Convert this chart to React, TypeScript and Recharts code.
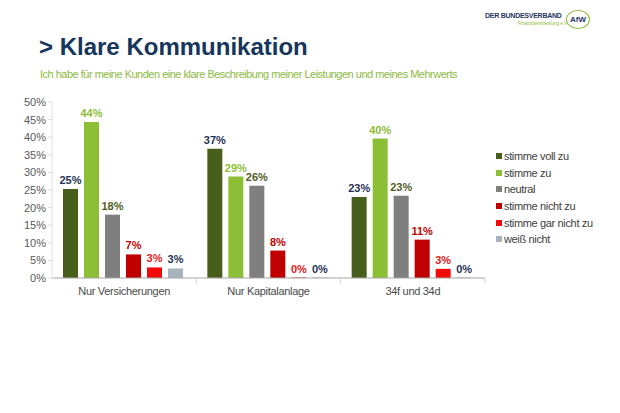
import React from 'react';
import { BarChart, Bar, XAxis, YAxis, LabelList } from 'recharts';

const categories = ['Nur Versicherungen', 'Nur Kapitalanlage', '34f und 34d'];

const seriesNames = ['stimme voll zu', 'stimme zu', 'neutral', 'stimme nicht zu', 'stimme gar nicht zu', 'weiß nicht'];
const vollZu = [25.3, 36.7, 23.0];
const zu = [44.3, 28.8, 39.6];
const neutral = [18.0, 26.2, 23.4];
const nichtZu = [6.7, 7.8, 10.9];
const garNichtZu = [3.0, 0, 2.6];
const weissNicht = [2.7, 0, 0];

const yTicks = [0, 5, 10, 15, 20, 25, 30, 35, 40, 45, 50];

const barColors = ['#485E1B', '#8CBE36', '#7F7F7F', '#C00000', '#F00A0A', '#A9B3BE'];
const labelColors = ['#1F3356', '#8CBE36', '#4E5E26', '#C00000', '#E02020', '#1F3356'];

const seriesValues = [vollZu, zu, neutral, nichtZu, garNichtZu, weissNicht];
const data = categories.map((c, i) => {
    const row: Record<string, string | number> = { name: c };
    seriesNames.forEach((s, k) => { row[s] = seriesValues[k][i]; });
    return row;
});

const FONT = '"Liberation Sans", Arial, sans-serif';
const PLOT_W = 433;

// category label plus a small boundary tick on each side, like the original
function CategoryTick({ x, y, payload, index }: any) {
    const half = PLOT_W / categories.length / 2;
    return (
        <g>
            {index > 0 && <line x1={x - half} x2={x - half} y1={y - 8} y2={y - 3} stroke="#d0d0d0" />}
            {index === categories.length - 1 && <line x1={x + half} x2={x + half} y1={y - 8} y2={y - 3} stroke="#d0d0d0" />}
            <text x={x} y={y + 9} textAnchor="middle" fontSize={11} letterSpacing={-0.3} fill="#4a4a4a" fontFamily={FONT}>{payload.value}</text>
        </g>
    );
}

export default function App() {
    return (
        <div style={{ position: 'relative', width: 620, height: 413, background: '#fff', fontFamily: FONT }}>
            <style>{'body{margin:0}'}</style>

            <div style={{ position: 'absolute', left: 485, top: 12, fontSize: 7, fontWeight: 700, color: '#1F3864', letterSpacing: -0.25 }}>
                DER BUNDESVERBAND
            </div>
            <div style={{ position: 'absolute', left: 518, top: 21, fontSize: 4.5, color: '#8CBE36' }}>
                Finanzdienstleistung e.V.
            </div>
            <div style={{
                position: 'absolute', left: 566, top: 10, width: 22, height: 17, borderRadius: '50%',
                border: '1.5px solid #8CBE36', color: '#1F3864', fontSize: 8, fontWeight: 700,
                display: 'flex', alignItems: 'center', justifyContent: 'center',
            }}>
                AfW
            </div>

            <div style={{ position: 'absolute', left: 39, top: 33, fontSize: 24, fontWeight: 700, color: '#17365D' }}>
                &gt; Klare Kommunikation
            </div>
            <div style={{ position: 'absolute', left: 40, top: 68, fontSize: 11, letterSpacing: -0.5, color: '#8DBB45' }}>
                Ich habe für meine Kunden eine klare Beschreibung meiner Leistungen und meines Mehrwerts
            </div>

            <div style={{ position: 'absolute', left: 0, top: 0 }}>
                <BarChart
                    width={620}
                    height={320}
                    data={data}
                    margin={{ top: 102, right: 135, left: 7, bottom: 12 }}
                    barCategoryGap={11}
                    barGap={6}
                >
                    <XAxis dataKey="name" height={30} axisLine={{ stroke: '#a6a6a6' }} tickLine={false} tick={<CategoryTick />} interval={0} />
                    <YAxis
                        width={45}
                        domain={[0, 50]}
                        ticks={yTicks}
                        interval={0}
                        tickFormatter={v => `${v}%`}
                        axisLine={{ stroke: '#e2e2e2' }}
                        tickLine={{ stroke: '#d9d9d9' }}
                        tickSize={4}
                        tick={{ fontSize: 11, fill: '#595959', fontFamily: FONT }}
                    />
                    {seriesNames.map((s, k) => (
                        <Bar key={s} dataKey={s} fill={barColors[k]} minPointSize={0.5} isAnimationActive={false}>
                            <LabelList
                                dataKey={s}
                                position="top"
                                offset={5}
                                formatter={(v: any) => `${Math.round(Number(v))}%`}
                                style={{ fontSize: 11, fontWeight: 700, fill: labelColors[k], fontFamily: FONT }}
                            />
                        </Bar>
                    ))}
                </BarChart>
            </div>

            <div style={{ position: 'absolute', left: 496, top: 148 }}>
                {seriesNames.map((s, k) => (
                    <div key={s} style={{ display: 'flex', alignItems: 'center', height: 16.6, fontSize: 11, letterSpacing: -0.35, color: '#404040' }}>
                        <span style={{ width: 6, height: 6, background: barColors[k], marginRight: 2 }} />
                        <span>{s}</span>
                    </div>
                ))}
            </div>
        </div>
    );
}
